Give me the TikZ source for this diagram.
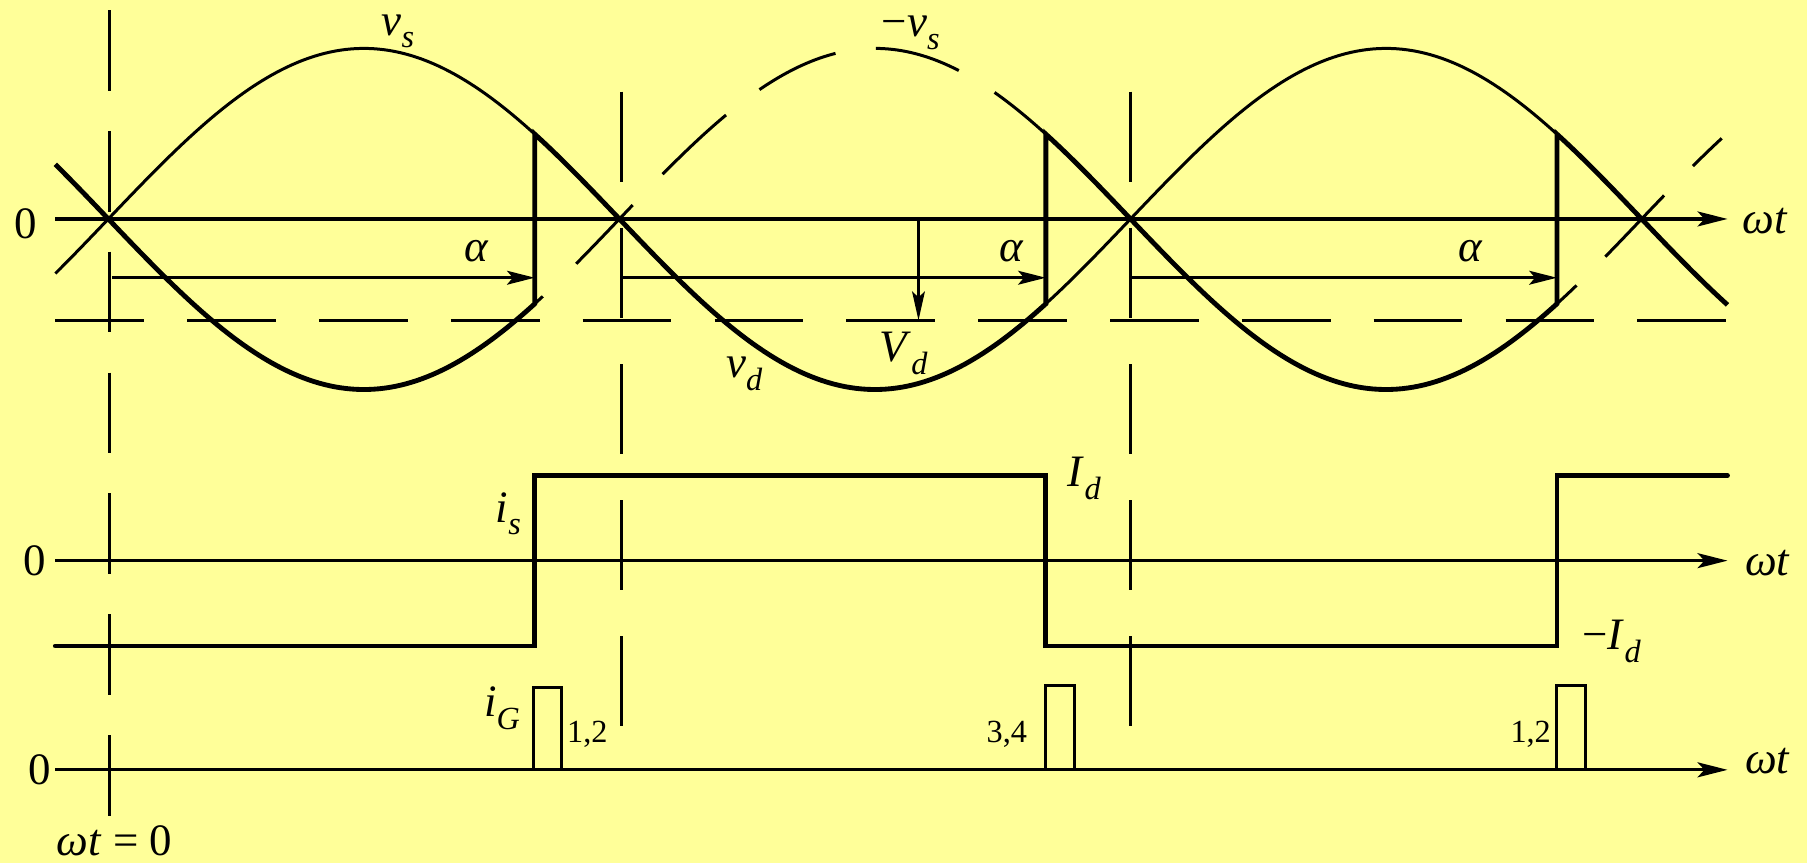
\documentclass[tikz,border=0pt]{standalone}
\usepackage{fontspec}
\setmainfont{Liberation Serif}
\usetikzlibrary{arrows.meta}
\definecolor{bgyellow}{RGB}{255,255,153}
\newcommand\lblfont{\fontsize{39}{42}\selectfont}
\newcommand\numfont{\fontsize{28}{30}\selectfont}
\newcommand\mysub[1]{\raisebox{-11pt}{\fontsize{28}{30}\selectfont\itshape #1}}
\begin{document}
\begin{tikzpicture}[x=1pt,y=-1pt,
  declare function={vs(\t)=148*sin((\t-94)*0.405862);},
  thinw/.style={line width=2.6pt},
  boldw/.style={line width=4.2pt},
  axisl/.style={line width=2.8pt,-{Stealth[length=26pt,width=13pt,inset=6pt]}},
  alphaarr/.style={line width=2.6pt,-{Stealth[length=24pt,width=12pt,inset=5pt]}},
  dashl/.style={line width=2.8pt},
  lab/.style={inner sep=0pt,anchor=base west,font=\lblfont},
  numlab/.style={inner sep=0pt,anchor=base west,font=\numfont}]
\fill[bgyellow] (0,0) rectangle (1568,749);
\useasboundingbox (0,0) rectangle (1568,749);

% dashed guide lines
\draw[dashl,dash pattern=on 77pt off 37.4pt] (48,278) -- (1499,278);
\draw[dashl,dash pattern=on 70pt off 34.85pt] (95,8.7) -- (95,708);
\draw[dashl,dash pattern=on 78pt off 40.2pt] (539,79.5) -- (539,630);
\draw[dashl,dash pattern=on 78pt off 40.2pt] (981,79.5) -- (981,630);

% axes
\draw[axisl] (48,190) -- (1499,190);
\draw[axisl] (48,486.5) -- (1499,486.5);
\draw[axisl] (48,668) -- (1499,668);

% thin v_s
\draw[thinw] plot[domain=48:464,samples=90] (\x,{190-vs(\x)});
\draw[thinw] plot[domain=907.5:1351,samples=90] (\x,{190-vs(\x)});
% thin -v_s (dashed pieces)
\foreach \a/\b in {464/471,500/549,575/630,659/725,760/832,863/907.5,1351/1368,1393/1444,1469/1494}
  \draw[thinw] plot[domain=\a:\b,samples=20] (\x,{190+vs(\x)});

% v_d (thick)
\draw[boldw] plot[domain=48:464,samples=90] (\x,{190+vs(\x)})
  -- plot[domain=464:907.5,samples=90] (\x,{190-vs(\x)})
  -- plot[domain=907.5:1351,samples=90] (\x,{190+vs(\x)})
  -- plot[domain=1351:1499,samples=40] (\x,{190-vs(\x)});

% alpha arrows
\draw[alphaarr] (97,241) -- (464,241);
\draw[alphaarr] (539,241) -- (907.5,241);
\draw[alphaarr] (981,241) -- (1351,241);
% V_d arrow
\draw[line width=2.6pt,-{Stealth[length=25pt,width=11pt,inset=5pt]}] (797,190) -- (797,278);

% i_s
\draw[boldw,line cap=round] (48,560.5) -- (464,560.5) -- (464,412.5) -- (907.5,412.5)
  -- (907.5,560.5) -- (1351,560.5) -- (1351,412.5) -- (1499,412.5);

% gate pulses
\draw[thinw] (463,668) -- (463,596.5) -- (487,596.5) -- (487,668);
\draw[thinw] (907.5,668) -- (907.5,595) -- (932.5,595) -- (932.5,668);
\draw[thinw] (1351,668) -- (1351,595) -- (1376,595) -- (1376,668);

% labels
\node[lab] (z1) at (12,207) {0};
\node[lab] (z2) at (20,499) {0};
\node[lab] (z3) at (24.6,681) {0};
\node[lab] (wt1) at (1512,203) {\itshape ωt};
\node[lab] (wt2) at (1514,499) {\itshape ωt};
\node[lab] (wt3) at (1514,671) {\itshape ωt};
\node[lab] (wt0) at (49,742) {\textit{ωt} = 0};
\node[lab] (lvs) at (331,30.4) {\textit{v}\mysub{s}};
\node[lab] (lmvs) at (765,32) {−\textit{v}\mysub{s}};
\node[lab] (a1) at (403,227) {\itshape α};
\node[lab] (a2) at (867.5,227) {\itshape α};
\node[lab] (a3) at (1265.6,227) {\itshape α};
\node[lab] (lvd) at (630,328) {\textit{v}\mysub{d}};
\node[lab] (lVd) at (763,314) {\textit{V}\mysub{d}};
\node[lab] (lis) at (430,453) {\textit{i}\mysub{s}};
\node[lab] (lId) at (926.5,422) {\textit{I}\mysub{d}};
\node[lab] (lmId) at (1373,564) {−\textit{I}\mysub{d}};
\node[lab] (liG) at (420,622) {\textit{i}\mysub{G}};
\node[numlab] (p1) at (492,644) {1,2};
\node[numlab] (p2) at (856,644) {3,4};
\node[numlab] (p3) at (1310.5,644) {1,2};
\end{tikzpicture}
\end{document}
